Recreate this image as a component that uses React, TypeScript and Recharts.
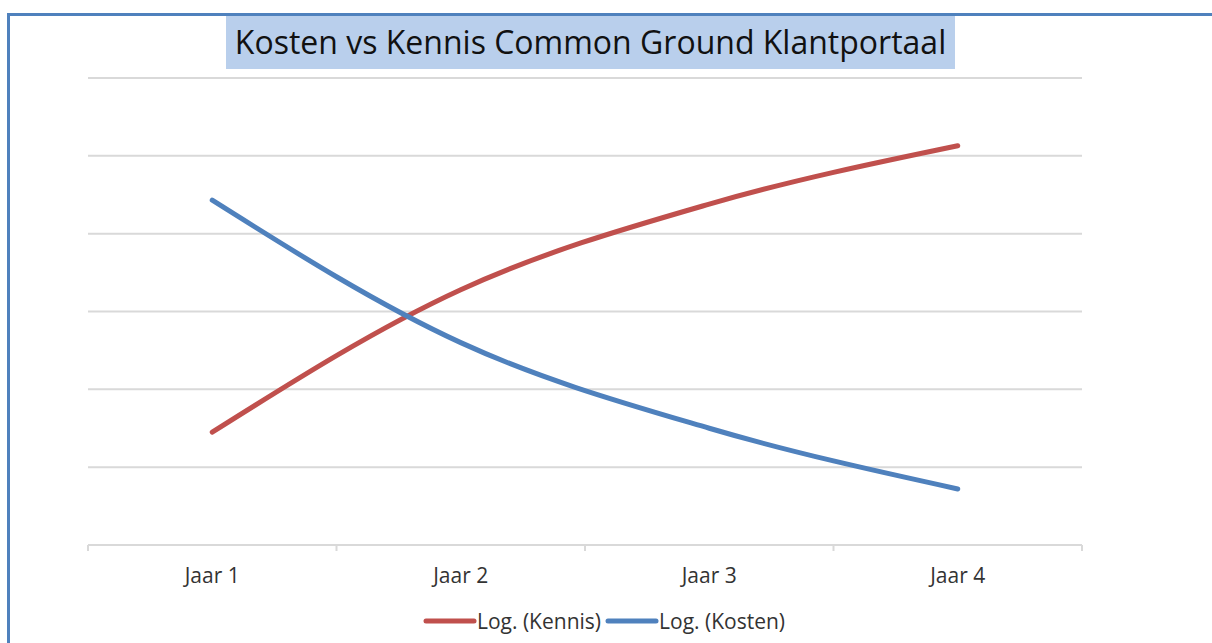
import React from 'react';
import { LineChart, Line, XAxis, YAxis, CartesianGrid, Legend } from 'recharts';

const years = ['Jaar 1', 'Jaar 2', 'Jaar 3', 'Jaar 4'];
const yearNr = [1, 2, 3, 4];
const kennis = [1.45, 3.28, 4.38, 5.13];
const kosten = [4.43, 2.6, 1.5, 0.72];
const yTicks = [0, 1, 2, 3, 4, 5, 6];
const edgeTicks = [0, 1, 2, 3, 4];

const RED = '#c0504d';
const BLUE = '#4f81bd';
const FONT = '"Open Sans", sans-serif';

const data = years.map((jaar, i) => ({ jaar, nr: yearNr[i], kennis: kennis[i], kosten: kosten[i] }));

const legendItems = [
  { label: 'Log. (Kennis)', color: RED },
  { label: 'Log. (Kosten)', color: BLUE },
];

function LegendContent() {
  return (
    <div style={{ display: 'flex', justifyContent: 'center', alignItems: 'center', fontFamily: FONT, fontSize: 21, color: '#333' }}>
      {legendItems.map((item) => (
        <div key={item.label} style={{ display: 'flex', alignItems: 'center', marginRight: 4 }}>
          <svg width={54} height={8}>
            <line x1={3} y1={4} x2={51} y2={4} stroke={item.color} strokeWidth={5} strokeLinecap="round" />
          </svg>
          <span>{item.label}</span>
        </div>
      ))}
    </div>
  );
}

// tick marks only, no labels on the edge axis
const NoLabel = () => <g />;

export default function App() {
  return (
    <div style={{ position: 'absolute', left: 0, top: 0, width: 1212, height: 643, background: '#fff', overflow: 'hidden' }}>
      <div style={{ position: 'absolute', left: 7, top: 13, right: 0, height: 3, background: BLUE }} />
      <div style={{ position: 'absolute', left: 7, top: 13, width: 3, bottom: 0, background: BLUE }} />
      <div
        style={{
          position: 'absolute',
          left: 226,
          top: 16,
          width: 729,
          height: 53,
          background: '#b9cfec',
          fontFamily: FONT,
          fontSize: 32,
          color: '#111',
          display: 'flex',
          alignItems: 'center',
          justifyContent: 'center',
          whiteSpace: 'nowrap',
          paddingBottom: 3,
          boxSizing: 'border-box',
        }}
      >
        Kosten vs Kennis Common Ground Klantportaal
      </div>
      <LineChart width={1212} height={643} data={data} margin={{ top: 78, left: 88, right: 130, bottom: 57 }}>
        <CartesianGrid vertical={false} stroke="#d9d9d9" strokeWidth={2} />
        <XAxis
          xAxisId="a_edges"
          dataKey="nr"
          type="number"
          domain={[0, 4]}
          allowDataOverflow
          ticks={edgeTicks}
          interval={0}
          tick={NoLabel}
          tickSize={6}
          height={1}
          stroke="#d9d9d9"
          strokeWidth={2}
        />
        <XAxis
          xAxisId="b_cat"
          dataKey="jaar"
          scale="band"
          axisLine={false}
          tickLine={false}
          tickSize={0}
          tickMargin={22}
          height={40}
          tick={{ fontFamily: FONT, fontSize: 21, fill: '#333' }}
        />
        <YAxis hide domain={[0, 6]} ticks={yTicks} />
        <Legend verticalAlign="middle" content={<LegendContent />} wrapperStyle={{ top: 607, left: 0, width: 1212 }} />
        <Line
          xAxisId="b_cat"
          type="monotone"
          dataKey="kennis"
          stroke={RED}
          strokeWidth={5}
          strokeLinecap="round"
          dot={false}
          isAnimationActive={false}
          name="Log. (Kennis)"
        />
        <Line
          xAxisId="b_cat"
          type="monotone"
          dataKey="kosten"
          stroke={BLUE}
          strokeWidth={5}
          strokeLinecap="round"
          dot={false}
          isAnimationActive={false}
          name="Log. (Kosten)"
        />
      </LineChart>
    </div>
  );
}
